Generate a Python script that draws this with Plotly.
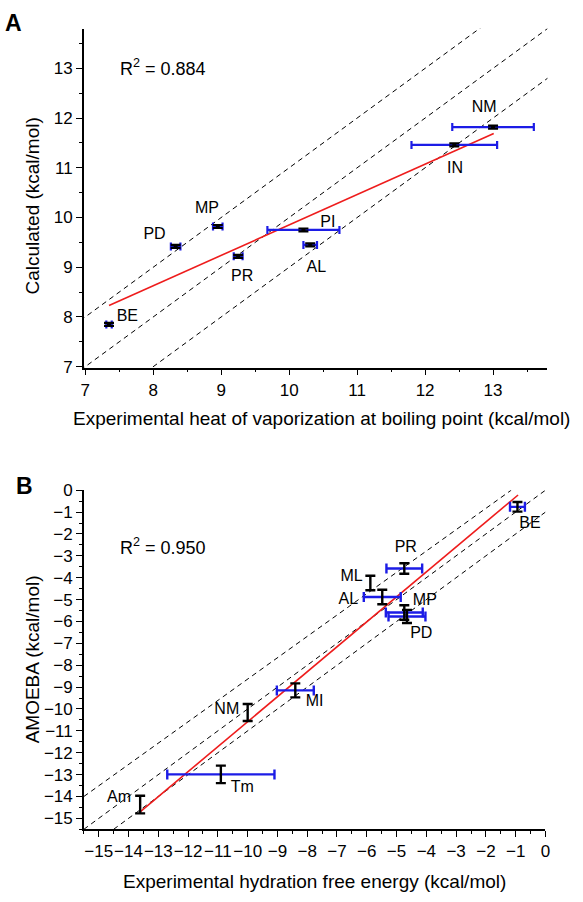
import plotly.graph_objects as go

# ---------------- Panel A data ----------------
a_names = ["BE", "PD", "MP", "PR", "PI", "AL", "IN", "NM"]
a_exp = [7.35, 8.33, 8.95, 9.25, 10.21, 10.31, 12.43, 13.00]
a_exp_err = [0.04, 0.07, 0.07, 0.065, 0.53, 0.10, 0.63, 0.60]
a_calc = [7.85, 9.42, 9.82, 9.22, 9.75, 9.45, 11.46, 11.82]
a_calc_err = [0.03, 0.03, 0.03, 0.03, 0.03, 0.03, 0.03, 0.03]
a_label_x = [7.62, 8.02, 8.79, 9.31, 10.57, 10.40, 12.44, 12.87]
a_label_y = [8.0, 9.65, 10.17, 8.80, 9.90, 8.98, 10.97, 12.20]
a_fit_x = [7.35, 13.01]
a_fit_y = [8.23, 11.69]
a_guide_offsets = [-1, 0, 1]
a_guide_x = [6.5, 14.5]
a_r2 = "R<sup>2</sup> = 0.884"

# ---------------- Panel B data ----------------
b_names = ["BE", "PR", "ML", "AL", "MP", "PD", "MI", "NM", "Tm", "Am"]
b_exp = [-0.94, -4.74, -5.88, -5.48, -4.74, -4.65, -8.40, -10.00, -10.90, -13.61]
b_exp_err = [0.25, 0.60, None, 0.62, 0.62, 0.62, 0.62, None, 1.80, None]
b_calc = [-0.76, -3.58, -4.24, -4.88, -5.59, -5.77, -9.15, -10.16, -12.99, -14.37]
b_calc_err = [0.22, 0.24, 0.33, 0.33, 0.33, 0.30, 0.32, 0.39, 0.40, 0.40]
b_label_x = [-0.52, -4.69, -6.51, -6.62, -4.05, -4.17, -7.75, -10.70, -10.18, -14.32]
b_label_y = [-1.53, -2.62, -3.96, -5.00, -5.06, -6.56, -9.69, -10.03, -13.63, -14.06]
b_fit_x = [-13.61, -0.92]
b_fit_y = [-14.70, -0.22]
b_guide_upper_x = [-15.5, -1.15]
b_guide_upper_y = [-14.0, 0.0]
b_guide_mid_x = [-15.5, 0.0]
b_guide_mid_y = [-15.5, 0.0]
b_guide_low_x = [-14.5, 0.0]
b_guide_low_y = [-15.5, -1.0]
b_r2 = "R<sup>2</sup> = 0.950"

FONT = "Liberation Sans, Arial, sans-serif"
BLUE = "#1c1ce6"
RED = "#ee1c1c"
W, H = 583, 902

fig = go.Figure()

# ---- Panel A guides ----
for off in a_guide_offsets:
    fig.add_trace(go.Scatter(x=a_guide_x, y=[v + off for v in a_guide_x], mode="lines",
                             line=dict(color="black", width=1, dash="5px,4px"),
                             xaxis="x", yaxis="y", hoverinfo="skip", showlegend=False))
fig.add_trace(go.Scatter(x=a_fit_x, y=a_fit_y, mode="lines", line=dict(color=RED, width=1.6),
                         xaxis="x", yaxis="y", showlegend=False))
fig.add_trace(go.Scatter(x=a_exp, y=a_calc, mode="markers",
                         marker=dict(size=1, color=BLUE),
                         error_x=dict(type="data", array=a_exp_err, color=BLUE, thickness=2.2, width=4),
                         xaxis="x", yaxis="y", showlegend=False))
fig.add_trace(go.Scatter(x=a_exp, y=a_calc, mode="markers",
                         marker=dict(size=4, color="black", symbol="square"),
                         error_y=dict(type="data", array=a_calc_err, color="black", thickness=2.2, width=5),
                         xaxis="x", yaxis="y", showlegend=False))
fig.add_trace(go.Scatter(x=a_label_x, y=a_label_y, mode="text", text=a_names,
                         textfont=dict(family=FONT, size=16, color="black"),
                         xaxis="x", yaxis="y", showlegend=False))

# ---- Panel B guides ----
for gx, gy in [(b_guide_upper_x, b_guide_upper_y), (b_guide_mid_x, b_guide_mid_y), (b_guide_low_x, b_guide_low_y)]:
    fig.add_trace(go.Scatter(x=gx, y=gy, mode="lines",
                             line=dict(color="black", width=1, dash="5px,4px"),
                             xaxis="x2", yaxis="y2", hoverinfo="skip", showlegend=False))
fig.add_trace(go.Scatter(x=b_fit_x, y=b_fit_y, mode="lines", line=dict(color=RED, width=1.6),
                         xaxis="x2", yaxis="y2", showlegend=False))
bx_idx = [i for i, e in enumerate(b_exp_err) if e is not None]
fig.add_trace(go.Scatter(x=[b_exp[i] for i in bx_idx], y=[b_calc[i] for i in bx_idx], mode="markers",
                         marker=dict(size=1, color=BLUE),
                         error_x=dict(type="data", array=[b_exp_err[i] for i in bx_idx], color=BLUE,
                                      thickness=2.4, width=5),
                         xaxis="x2", yaxis="y2", showlegend=False))
fig.add_trace(go.Scatter(x=b_exp, y=b_calc, mode="markers",
                         marker=dict(size=1, color="black"),
                         error_y=dict(type="data", array=b_calc_err, color="black", thickness=2.4, width=5),
                         xaxis="x2", yaxis="y2", showlegend=False))
fig.add_trace(go.Scatter(x=b_label_x, y=b_label_y, mode="text", text=b_names,
                         textfont=dict(family=FONT, size=16, color="black"),
                         xaxis="x2", yaxis="y2", showlegend=False))


def px_x(p):
    return p / W


def px_y(p):
    return 1 - p / H


axis_common = dict(showline=True, linecolor="black", linewidth=1.5, showgrid=False, zeroline=False,
                   ticks="outside", ticklen=6, tickwidth=1.3, tickcolor="black", dtick=1, tickangle=0,
                   tickfont=dict(family=FONT, size=17, color="black"),
                   minor=dict(dtick=0.5, ticks="outside", ticklen=3, tickwidth=1.2, tickcolor="black"))

fig.update_layout(
    width=W, height=H, margin=dict(l=0, r=0, t=0, b=0),
    paper_bgcolor="white", plot_bgcolor="white", showlegend=False,
    font=dict(family=FONT, color="black"),
    xaxis=dict(domain=[px_x(82), px_x(552)], range=[6.98, 13.8], tick0=7, anchor="y", **axis_common),
    yaxis=dict(domain=[px_y(366), px_y(20)], range=[6.98, 13.8], tick0=7, anchor="x", **axis_common),
    xaxis2=dict(domain=[px_x(82), px_x(550)], range=[-15.5, 0], tick0=0, anchor="y2", **axis_common),
    yaxis2=dict(domain=[px_y(837), px_y(491)], range=[-15.5, 0], tick0=0, anchor="x2", **axis_common),
)

ann = []
ann.append(dict(text="<b>A</b>", x=px_x(0), y=px_y(14), xref="paper", yref="paper", xanchor="left",
                yanchor="middle", showarrow=False, font=dict(family=FONT, size=23)))
ann.append(dict(text="<b>B</b>", x=px_x(11), y=px_y(487), xref="paper", yref="paper", xanchor="left",
                yanchor="middle", showarrow=False, font=dict(family=FONT, size=23)))
ann.append(dict(text=a_r2, x=px_x(117), y=px_y(60), xref="paper", yref="paper", xanchor="left",
                yanchor="middle", showarrow=False, font=dict(family=FONT, size=18)))
ann.append(dict(text=b_r2, x=px_x(117), y=px_y(548), xref="paper", yref="paper", xanchor="left",
                yanchor="middle", showarrow=False, font=dict(family=FONT, size=18)))
ann.append(dict(text="Experimental heat of vaporization at boiling point (kcal/mol)", x=px_x(323), y=px_y(418),
                xref="paper", yref="paper", xanchor="center", yanchor="middle", showarrow=False,
                font=dict(family=FONT, size=19)))
ann.append(dict(text="Experimental hydration free energy (kcal/mol)", x=px_x(316), y=px_y(890),
                xref="paper", yref="paper", xanchor="center", yanchor="middle", showarrow=False,
                font=dict(family=FONT, size=19)))
ann.append(dict(text="Calculated (kcal/mol)", x=px_x(30), y=px_y(201), xref="paper", yref="paper",
                xanchor="center", yanchor="middle", textangle=-90, showarrow=False,
                font=dict(family=FONT, size=19)))
ann.append(dict(text="AMOEBA (kcal/mol)", x=px_x(30), y=px_y(664), xref="paper", yref="paper",
                xanchor="center", yanchor="middle", textangle=-90, showarrow=False,
                font=dict(family=FONT, size=19)))
fig.update_layout(annotations=ann)

fig.write_html("out.html", config={"displayModeBar": False},
               post_script="document.body.style.margin='0px';document.body.style.overflow='hidden';")
